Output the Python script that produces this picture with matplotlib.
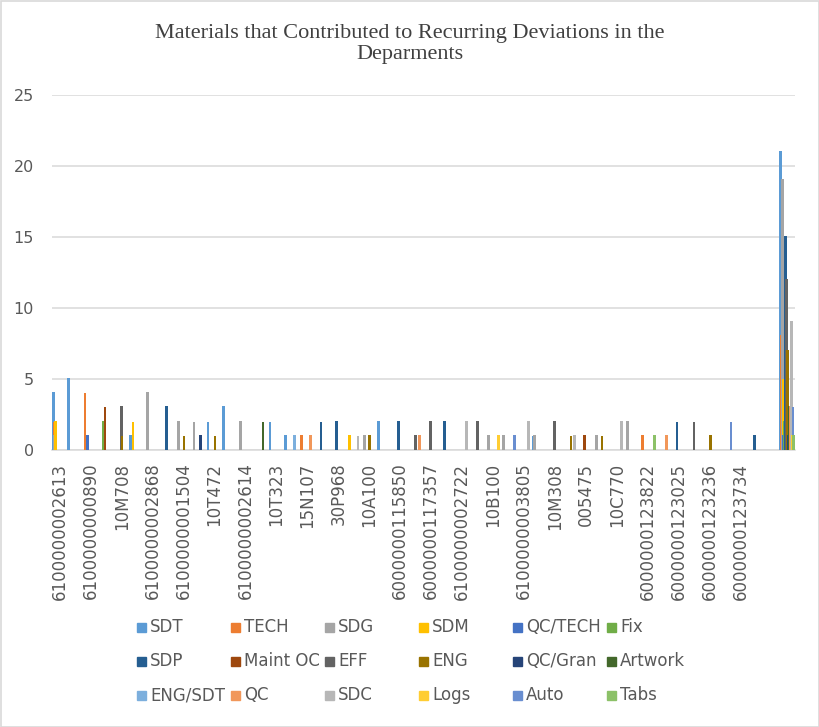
import matplotlib.pyplot as plt
import numpy as np
from matplotlib.patches import Rectangle

# labels Excel actually prints (every second category, last two unlabeled)
shown_labels = [
    "6100000002613", "6100000000890", "10M708", "6100000002868",
    "6100000001504", "10T472", "6100000002614", "10T323", "15N107",
    "30P968", "10A100", "6000000115850", "6000000117357", "6100000002722",
    "10B100", "6100000003805", "10M308", "005475", "10C770",
    "6000000123822", "6000000123025", "6000000123236", "6000000123734",
]

series_names = ["SDT", "TECH", "SDG", "SDM", "QC/TECH", "Fix",
                "SDP", "Maint OC", "EFF", "ENG", "QC/Gran", "Artwork",
                "ENG/SDT", "QC", "SDC", "Logs", "Auto", "Tabs"]
series_colors = ["#5B9BD5", "#ED7D31", "#A5A5A5", "#FFC000", "#4472C4", "#70AD47",
                 "#255E91", "#9E480E", "#636363", "#997300", "#264478", "#43682B",
                 "#7CAFDD", "#F1975A", "#B7B7B7", "#FFCD33", "#698ED0", "#8CC168"]

# 48 categories per series
sdt      = [4,5,0,0,0,1,0,0,0,0,2,3, 0,0,2,1,0,0,0,0,0,2,0,0, 0,0,0,0,0,0,0,1,0,0,0,0, 0,0,0,0,0,0,0,0,0,0,0,21]
tech     = [2,0,4,0,0,0,0,0,0,0,0,0, 0,0,0,0,1,0,0,0,0,0,0,0, 0,0,0,0,0,0,0,0,0,0,0,0, 0,0,1,0,0,0,0,0,0,0,0,8]
sdg      = [1,0,0,0,0,0,4,0,2,2,0,0, 2,0,0,0,0,0,0,0,1,0,0,0, 0,0,0,0,1,1,0,1,0,0,0,1, 0,2,0,0,0,0,0,0,0,0,0,19]
sdm      = [2,0,0,0,0,2,0,0,0,0,0,0, 0,0,0,0,0,0,0,1,0,0,0,0, 0,0,0,0,0,0,0,0,0,0,0,0, 0,0,0,0,0,0,0,0,0,0,0,5]
qc_tech  = [0,0,1,0,0,0,0,0,0,0,0,0, 0,0,0,0,0,0,0,0,0,0,0,0, 0,0,0,0,0,0,0,0,0,0,0,0, 0,0,0,0,0,0,0,0,0,0,0,1]
fix      = [0,0,0,2,0,0,0,0,0,0,0,0, 0,0,0,0,0,0,0,0,0,0,0,0, 0,0,0,0,0,0,0,0,0,0,0,0, 0,0,0,0,0,0,0,0,0,0,0,2]
sdp      = [0,0,0,0,0,0,0,3,0,0,0,0, 0,0,0,0,0,2,2,0,0,0,2,0, 0,2,0,0,0,0,0,0,0,0,0,0, 0,0,0,0,2,0,0,0,0,1,0,15]
maint_oc = [0,0,0,3,0,0,0,0,0,0,0,0, 0,0,0,0,0,0,0,0,0,0,0,0, 0,0,0,0,0,0,0,0,0,0,1,0, 0,0,0,0,0,0,0,0,0,0,0,5]
eff      = [0,0,0,0,3,0,0,0,0,0,0,0, 0,0,0,0,0,0,0,0,0,0,0,1, 2,0,0,2,0,0,0,0,2,0,0,0, 0,0,0,0,0,2,0,0,0,0,0,12]
eng      = [0,0,0,0,1,0,0,0,1,0,1,0, 0,0,0,0,0,0,0,0,1,0,0,0, 0,0,0,0,0,0,0,0,0,1,0,1, 0,0,0,0,0,0,1,0,0,0,0,7]
qc_gran  = [0,0,0,0,0,0,0,0,0,1,0,0, 0,0,0,0,0,0,0,0,0,0,0,0, 0,0,0,0,0,0,0,0,0,0,0,0, 0,0,0,0,0,0,0,0,0,0,0,1]
artwork  = [0,0,0,0,0,0,0,0,0,0,0,0, 0,2,0,0,0,0,0,0,0,0,0,0, 0,0,0,0,0,0,0,0,0,0,0,0, 0,0,0,0,0,0,0,0,0,0,0,3]
eng_sdt  = [0,0,0,0,0,0,0,0,0,0,0,0, 0,0,0,1,0,0,0,0,0,0,0,0, 0,0,0,0,0,0,0,0,0,0,0,0, 0,0,0,0,0,0,0,0,0,0,0,1]
qc       = [0,0,0,0,0,0,0,0,0,0,0,0, 0,0,0,0,1,0,0,0,0,0,0,1, 0,0,0,0,0,0,0,0,0,0,0,0, 0,0,0,1,0,0,0,0,0,0,0,3]
sdc      = [0,0,0,0,0,0,0,0,0,0,0,0, 0,0,0,0,0,0,0,1,0,0,0,0, 0,0,2,0,0,0,2,0,0,1,0,0, 2,0,0,0,0,0,0,0,0,0,0,9]
logs     = [0,0,0,0,0,0,0,0,0,0,0,0, 0,0,0,0,0,0,0,0,0,0,0,0, 0,0,0,0,1,0,0,0,0,0,0,0, 0,0,0,0,0,0,0,0,0,0,0,1]
auto     = [0,0,0,0,0,0,0,0,0,0,0,0, 0,0,0,0,0,0,0,0,0,0,0,0, 0,0,0,0,0,1,0,0,0,0,0,0, 0,0,0,0,0,0,0,2,0,0,0,3]
tabs     = [0,0,0,0,0,0,0,0,0,0,0,0, 0,0,0,0,0,0,0,0,0,0,0,0, 0,0,0,0,0,0,0,0,0,0,0,0, 0,0,1,0,0,0,0,0,0,0,0,1]

values = [sdt, tech, sdg, sdm, qc_tech, fix, sdp, maint_oc, eff, eng,
          qc_gran, artwork, eng_sdt, qc, sdc, logs, auto, tabs]

W, H = 820, 727
fig = plt.figure(figsize=(W / 100, H / 100), dpi=100)
ax = fig.add_axes([52 / W, 1 - 450 / H, (795 - 52) / W, (450 - 95) / H])

n_cat = len(sdt)
n_ser = len(values)
bw = 1 / (n_ser + 2.19)  # excel gap width 219%
x = np.arange(n_cat)
for i, (name, color, vals) in enumerate(zip(series_names, series_colors, values)):
    vals = np.array(vals)
    keep = vals > 0  # empty cells draw nothing in excel
    ax.bar(x[keep] + (i - (n_ser - 1) / 2) * bw, vals[keep], width=bw,
           color=color, edgecolor=color, linewidth=0.3, antialiased=False,
           label=name, zorder=3)

ax.set_xlim(-0.5, n_cat - 0.5)
ax.set_ylim(0, 25)
ax.set_yticks(range(0, 26, 5))
ax.grid(axis="y", color="#D9D9D9", linewidth=1.1)
ax.set_axisbelow(True)
for s in ["top", "right", "left"]:
    ax.spines[s].set_visible(False)
ax.spines["bottom"].set_color("#D9D9D9")
ax.spines["bottom"].set_linewidth(1.1)

ax.set_xticks(x[::2][:len(shown_labels)])
ax.set_xticklabels(shown_labels, rotation=90, fontsize=12, color="#595959")
ax.tick_params(axis="x", length=0, pad=9)
ax.tick_params(axis="y", length=0, pad=13, labelsize=11.5, labelcolor="#595959")

fig.text(410 / W, 1 - 44 / H,
         "Materials that Contributed to Recurring Deviations in the\nDeparments",
         ha="center", va="center", fontsize=16, family="Liberation Serif",
         color="#404040", linespacing=1.1)

# legend laid out row by row like excel
for j, (name, color) in enumerate(zip(series_names, series_colors)):
    row, col = divmod(j, 6)
    px = 137 + col * 94
    py = 627 + row * 34
    fig.add_artist(Rectangle((px / W, 1 - (py + 4.5) / H), 9 / W, 9 / H,
                             transform=fig.transFigure, color=color))
    fig.text((px + 13) / W, 1 - py / H, name, ha="left", va="center",
             fontsize=12, color="#595959")

fig.add_artist(Rectangle((0.5 / W, 0.5 / H), 1 - 1 / W, 1 - 1 / H,
                         transform=fig.transFigure, fill=False,
                         edgecolor="#D9D9D9", linewidth=1.2))

fig.savefig("out.png", dpi=100)
